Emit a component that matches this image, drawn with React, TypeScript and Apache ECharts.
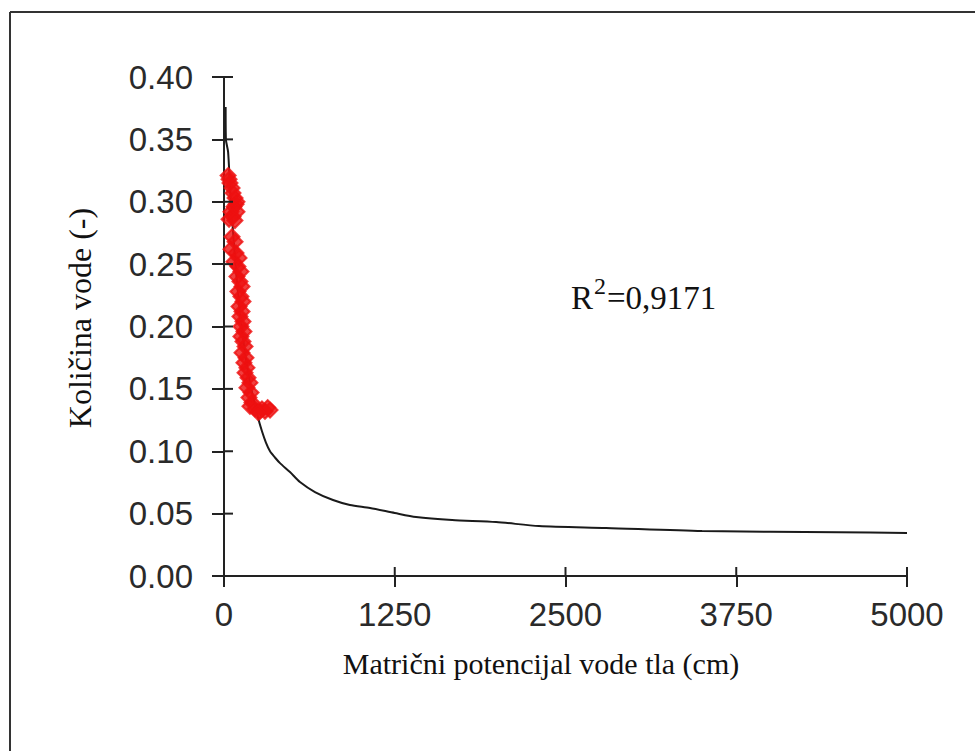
import React, { useEffect, useRef } from "react";
import * as echarts from "echarts";

const xTicks = [0, 1250, 2500, 3750, 5000];
const yTicks = [0, 0.05, 0.1, 0.15, 0.2, 0.25, 0.3, 0.35, 0.4];

// observed points: [matric potential (cm), water content (-)]
const observedPoints: [number, number][] = [
  [30, 0.321], [37, 0.318], [44, 0.315], [59, 0.311], [66, 0.307], [81, 0.303], [95, 0.3],
  [88, 0.298], [73, 0.296], [51, 0.292], [95, 0.292], [66, 0.288], [37, 0.286], [80, 0.285],
  [59, 0.272], [81, 0.268],
  [51, 0.262], [88, 0.259], [110, 0.255], [73, 0.252], [102, 0.248], [124, 0.244],
  [95, 0.24], [117, 0.236], [132, 0.232], [102, 0.228], [124, 0.224], [139, 0.22],
  [110, 0.216], [132, 0.212], [117, 0.208], [139, 0.204], [124, 0.2], [146, 0.196],
  [124, 0.192], [139, 0.188], [154, 0.184], [132, 0.179], [161, 0.175], [146, 0.171],
  [168, 0.167], [154, 0.163], [176, 0.159], [190, 0.155], [168, 0.151], [198, 0.147],
  [183, 0.143], [205, 0.139], [190, 0.136], [227, 0.134], [264, 0.132], [300, 0.132],
  [337, 0.133], [278, 0.134], [320, 0.135], [250, 0.131],
];

// fitted retention curve
const fitX = [12, 14, 30, 45, 70, 100, 140, 190, 249, 278, 307, 337, 373, 410, 483, 556, 666, 798, 922, 1069, 1250, 1406, 1670, 1992, 2306, 2797, 3500, 4500, 5000];
const fitY = [0.376, 0.35, 0.34, 0.31, 0.27, 0.23, 0.19, 0.155, 0.127, 0.116, 0.107, 0.1, 0.095, 0.0905, 0.0833, 0.0753, 0.0673, 0.0609, 0.0569, 0.0545, 0.0505, 0.0473, 0.0449, 0.0433, 0.04, 0.0385, 0.036, 0.035, 0.0345];

const yTitle = "Količina vode (-)";
const xTitle = "Matrični potencijal vode tla (cm)";
const r2Value = "=0,9171";

export default function App() {
  const ref = useRef<HTMLDivElement>(null);
  useEffect(() => {
    if (!ref.current) return;
    const chart = echarts.init(ref.current, null, { renderer: "svg" });
    const gridTop = 77;
    const gridBottomPx = 576;
    const gridLeft = 224;
    const gridRightPx = 907;
    const axisColor = "#222";
    const labelFont = {
      fontFamily: "'Liberation Sans', Arial, sans-serif",
      fontSize: 33,
      color: "#2a2a2a",
    };
    const fitData = fitX.map((x, i) => [x, fitY[i]]);
    const serif = "'Liberation Serif', 'Times New Roman', serif";
    chart.setOption({
      animation: false,
      backgroundColor: "#fff",
      grid: { left: gridLeft, top: gridTop, right: 975 - gridRightPx, bottom: 751 - gridBottomPx },
      xAxis: {
        type: "value",
        min: xTicks[0],
        max: xTicks[xTicks.length - 1],
        interval: xTicks[1] - xTicks[0],
        splitLine: { show: false },
        axisLine: { show: true, lineStyle: { color: axisColor, width: 2 } },
        axisTick: { show: true, inside: false, length: 11, lineStyle: { color: axisColor, width: 2 } },
        axisLabel: { ...labelFont, margin: 22, formatter: (v: number) => String(v) },
      },
      yAxis: {
        type: "value",
        min: yTicks[0],
        max: yTicks[yTicks.length - 1],
        interval: yTicks[1] - yTicks[0],
        splitLine: { show: false },
        axisLine: { show: true, lineStyle: { color: axisColor, width: 2 } },
        axisTick: { show: true, inside: false, length: 12, lineStyle: { color: axisColor, width: 2 } },
        axisLabel: { ...labelFont, margin: 31, formatter: (v: number) => v.toFixed(2) },
      },
      series: [
        {
          type: "line",
          data: fitData,
          showSymbol: false,
          symbol: "none",
          smooth: 0.25,
          lineStyle: { color: "#1a1a1a", width: 2 },
          z: 2,
        },
        {
          type: "scatter",
          data: observedPoints,
          symbol: "diamond",
          symbolSize: 15,
          itemStyle: { color: "#ee1010", borderColor: "#ee1010", borderWidth: 2 },
          z: 3,
        },
        {
          // inner half of the crossing x-axis ticks
          type: "custom",
          data: xTicks.map((v) => [v, yTicks[0]]),
          clip: false,
          silent: true,
          z: 4,
          renderItem: (params: any, api: any) => {
            const p = api.coord([api.value(0), api.value(1)]);
            return {
              type: "line",
              shape: { x1: p[0], y1: p[1], x2: p[0], y2: p[1] - 9 },
              style: { stroke: axisColor, lineWidth: 2 },
            };
          },
        },
        {
          // inner half of the crossing y-axis ticks
          type: "custom",
          data: yTicks.map((v) => [xTicks[0], v]),
          clip: false,
          silent: true,
          z: 4,
          renderItem: (params: any, api: any) => {
            const p = api.coord([api.value(0), api.value(1)]);
            return {
              type: "line",
              shape: { x1: p[0], y1: p[1], x2: p[0] + 9, y2: p[1] },
              style: { stroke: axisColor, lineWidth: 2 },
            };
          },
        },
      ],
      graphic: [
        { type: "line", shape: { x1: 10, y1: 12, x2: 975, y2: 12 }, style: { stroke: "#333", lineWidth: 2 } },
        { type: "line", shape: { x1: 10, y1: 12, x2: 10, y2: 751 }, style: { stroke: "#333", lineWidth: 2 } },
        {
          type: "text",
          x: 80,
          y: 318,
          rotation: Math.PI / 2,
          style: { text: yTitle, fontFamily: serif, fontSize: 32, fill: "#111", textAlign: "center", textVerticalAlign: "middle" },
        },
        {
          type: "text",
          x: 541,
          y: 663,
          style: { text: xTitle, fontFamily: serif, fontSize: 30, fill: "#111", textAlign: "center", textVerticalAlign: "middle" },
        },
        {
          type: "text",
          x: 571,
          y: 298,
          style: { text: "R", fontFamily: serif, fontSize: 33, fill: "#111", textAlign: "left", textVerticalAlign: "middle" },
        },
        {
          type: "text",
          x: 594,
          y: 286,
          style: { text: "2", fontFamily: serif, fontSize: 24, fill: "#111", textAlign: "left", textVerticalAlign: "middle" },
        },
        {
          type: "text",
          x: 607,
          y: 298,
          style: { text: r2Value, fontFamily: serif, fontSize: 33, fill: "#111", textAlign: "left", textVerticalAlign: "middle" },
        },
      ],
    });
    return () => chart.dispose();
  }, []);
  return (
    <div
      ref={ref}
      style={{ position: "fixed", left: 0, top: 0, width: 975, height: 751, background: "#fff" }}
    />
  );
}
